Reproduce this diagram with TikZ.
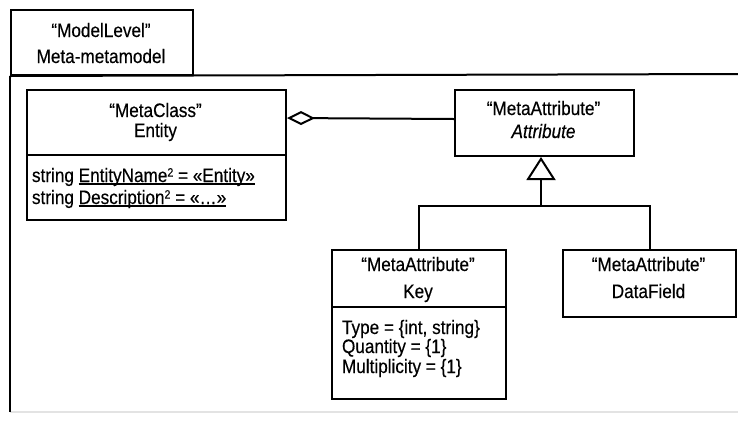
\documentclass[tikz,border=0pt]{standalone}
\usepackage{fontspec}
\setmainfont{Liberation Sans}[FakeStretch=0.88,FakeBold=0.35]
\usetikzlibrary{arrows.meta}
\newcommand\myul[1]{\setbox0\hbox{#1}\rlap{\rule[-2.6pt]{\wd0}{1.4pt}}\box0}
\newcommand\mysup[1]{\raisebox{0.28em}{\fontsize{12}{12}\selectfont #1}}
\begin{document}
\begin{tikzpicture}[x=1pt,y=-1pt,line width=2pt,
  box/.style={draw, inner sep=0pt, anchor=north west, line width=2pt},
  lbl/.style={inner sep=0pt, anchor=base, font=\fontsize{19.5}{21}\selectfont},
  lbll/.style={lbl, anchor=base west},
  aggr/.style={-{Diamond[open, length=28pt, width=14pt, line width=2pt]}},
  gen/.style={-{Triangle[open, length=23pt, width=29pt, line width=2pt]}}]
\useasboundingbox (0,0) rectangle (738,421);
% frame
\node[box, minimum width=182pt, minimum height=65pt] (tab) at (10,9) {};
\coordinate (fl) at (10,412);
\coordinate (fr) at (738,74);
\coordinate (fbr) at (738,412);
\draw[gray!22, line width=1.5pt] (fl) -- (fbr);
\draw (tab.south west) -- (fl);
\draw (tab.south west) -- (fr);
\node[lbl] (tab1) at (101,37) {“ModelLevel”};
\node[lbl] (tab2) at (101,63) {Meta-metamodel};
% Entity
\node[box, minimum width=259pt, minimum height=130pt] (entity) at (26,89) {};
\draw (entity.west |- 0,155) -- (entity.east |- 0,155);
\node[lbl] (ent1) at (155.5,117) {“MetaClass”};
\node[lbl] (ent2) at (155.5,137) {Entity};
\node[lbll] (ent3) at (31,182) {string \myul{EntityName\mysup{2} = «Entity»}};
\node[lbll] (ent4) at (31,204) {string \myul{Description\mysup{2} = «…»}};
% Attribute
\node[box, minimum width=179pt, minimum height=66pt] (attr) at (454,89) {};
\node[lbl] (att1) at (543.5,115) {“MetaAttribute”};
\node[lbl] (att2) at (543.5,138) {\itshape Attribute};
% Key
\node[box, minimum width=174pt, minimum height=149pt] (key) at (331,249) {};
\draw (key.west |- 0,307) -- (key.east |- 0,307);
\node[lbl] (key1) at (418,271) {“MetaAttribute”};
\node[lbl] (key2) at (418,298) {Key};
\node[lbll] (key3) at (341,334) {Type = \{int, string\}};
\node[lbll] (key4) at (341,353) {Quantity = \{1\}};
\node[lbll] (key5) at (341,373) {Multiplicity = \{1\}};
% DataField
\node[box, minimum width=173pt, minimum height=67pt] (df) at (562,249) {};
\node[lbl] (df1) at (648.5,271) {“MetaAttribute”};
\node[lbl] (df2) at (648.5,298) {DataField};
% connectors
\draw[aggr] ([yshift=4pt]attr.west) -- (entity.east |- 0,118);
\coordinate (j) at (541,206);
\draw (key.north) |- (j) -| (df.north);
\draw[gen] (j) -- (attr.south -| j);
\end{tikzpicture}
\end{document}
